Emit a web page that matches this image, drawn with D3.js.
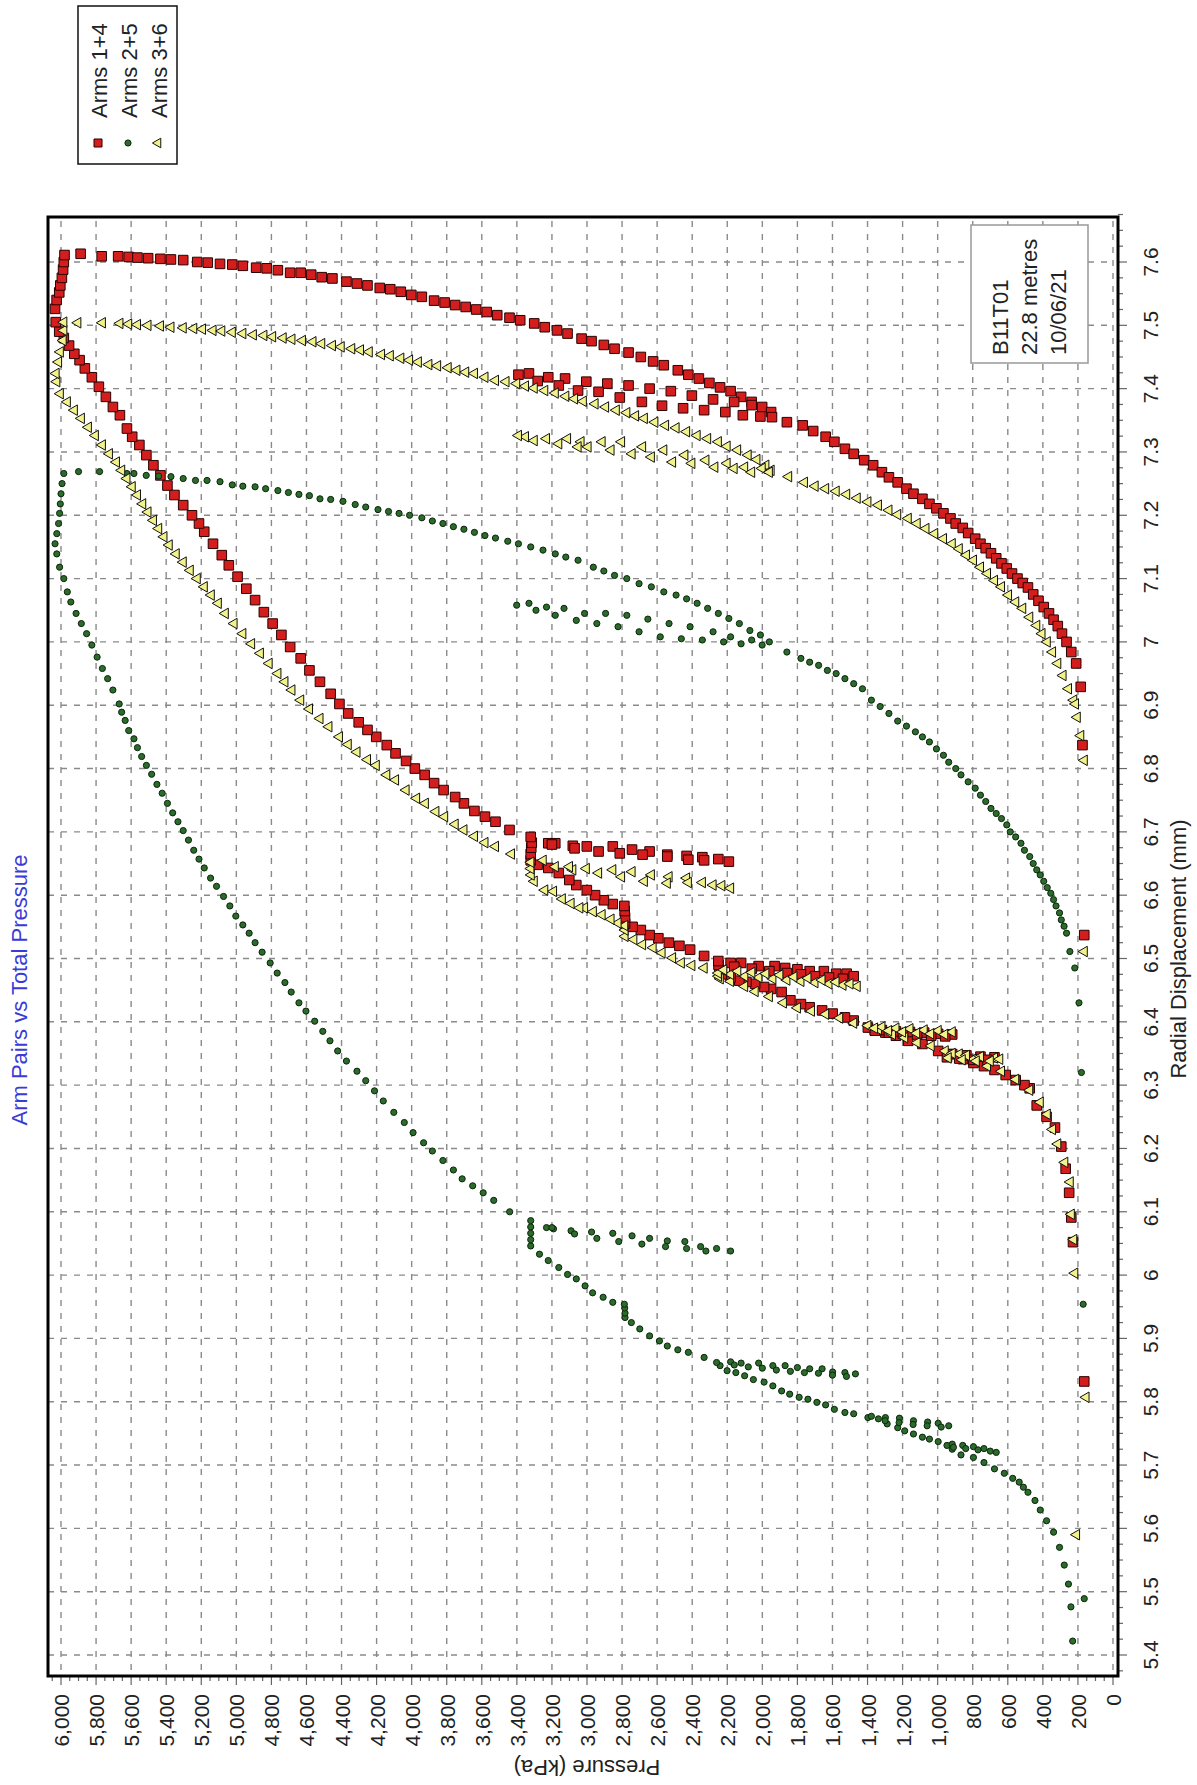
<!DOCTYPE html>
<html>
<head>
<meta charset="utf-8">
<script src="https://cdn.jsdelivr.net/npm/d3@7"></script>
<style>
  body { margin: 0; background: #fff; }
  svg { display: block; font-family: "Liberation Sans", Arial, sans-serif; }
</style>
</head>
<body>
<svg width="1197" height="1785"></svg>
<script>
// [pressure kPa, radial displacement mm] in test order
const arms14 = [
  [164, 5.832], [164, 6.537],
  [228, 6.052], [238, 6.091], [250, 6.13], [270, 6.168], [295, 6.203], [331, 6.233], [379, 6.25], [435, 6.268],
  [475, 6.295], [505, 6.30], [555, 6.308], [612, 6.316], [676, 6.324], [736, 6.33], [796, 6.335], [856, 6.341],
  [937, 6.349], [997, 6.354],
  [917, 6.349], [836, 6.347], [756, 6.345], [676, 6.344], [716, 6.34], [796, 6.34], [877, 6.342], [947, 6.344],
  [1087, 6.365], [1168, 6.37], [1238, 6.378], [1298, 6.383], [1358, 6.387], [1398, 6.391],
  [1318, 6.387], [1238, 6.385], [1158, 6.384], [1077, 6.383], [997, 6.381], [917, 6.38], [957, 6.377], [1037, 6.378],
  [1117, 6.38], [1198, 6.381], [1278, 6.383], [1358, 6.386],
  [1479, 6.402], [1529, 6.407], [1599, 6.413], [1659, 6.418], [1730, 6.423], [1780, 6.428], [1840, 6.434], [1890, 6.447],
  [1950, 6.452], [1990, 6.455], [2041, 6.46], [2091, 6.463], [2131, 6.465], [2181, 6.47], [2231, 6.475], [2245, 6.482],
  [2250, 6.49], [2251, 6.496],
  [2181, 6.493], [2121, 6.493], [2021, 6.488], [1930, 6.488], [1870, 6.485], [1800, 6.483], [1730, 6.48], [1649, 6.48],
  [1579, 6.476], [1519, 6.476], [1479, 6.472], [1540, 6.468], [1620, 6.47], [1700, 6.472], [1780, 6.475], [1860, 6.477],
  [1960, 6.48], [2060, 6.484], [2160, 6.487],
  [2332, 6.504], [2412, 6.514], [2473, 6.52], [2533, 6.525], [2593, 6.532], [2643, 6.537], [2693, 6.545], [2740, 6.55],
  [2783, 6.555], [2783, 6.565], [2785, 6.575], [2787, 6.583],
  [2853, 6.586], [2904, 6.592], [2954, 6.60], [3001, 6.608], [3061, 6.616], [3101, 6.624], [3161, 6.635], [3221, 6.643],
  [3282, 6.648], [3321, 6.655], [3321, 6.665], [3318, 6.675], [3315, 6.683],
  [3221, 6.682], [3181, 6.682], [3081, 6.678], [3001, 6.677], [2853, 6.677], [2743, 6.672], [2643, 6.669], [2542, 6.664],
  [2432, 6.662], [2342, 6.66], [2251, 6.657], [2191, 6.653], [2332, 6.655], [2422, 6.656], [2542, 6.661], [2683, 6.664],
  [2813, 6.666], [2934, 6.669], [3071, 6.674], [3200, 6.68],
  [3321, 6.692], [3442, 6.703], [3522, 6.716], [3582, 6.724], [3642, 6.733], [3702, 6.745], [3752, 6.755], [3818, 6.766],
  [3872, 6.777], [3926, 6.79], [3982, 6.80], [4032, 6.812], [4092, 6.824], [4142, 6.837], [4202, 6.85], [4252, 6.861],
  [4302, 6.873], [4362, 6.887], [4412, 6.902], [4462, 6.918], [4523, 6.937], [4583, 6.955], [4633, 6.974], [4693, 6.992],
  [4743, 7.011], [4793, 7.029], [4843, 7.047], [4893, 7.066], [4943, 7.084], [4993, 7.103], [5043, 7.121], [5083, 7.137],
  [5133, 7.155], [5183, 7.174], [5213, 7.187], [5253, 7.2], [5303, 7.216], [5353, 7.232], [5393, 7.247], [5433, 7.263],
  [5473, 7.279], [5513, 7.295], [5553, 7.311], [5594, 7.324], [5624, 7.337], [5664, 7.358], [5704, 7.371], [5744, 7.387],
  [5784, 7.403], [5824, 7.418], [5864, 7.432], [5894, 7.445], [5924, 7.455], [5954, 7.468],
  [5984, 7.48], [6010, 7.49], [6030, 7.505], [6034, 7.526], [6025, 7.54], [6010, 7.552], [6004, 7.563], [5995, 7.575],
  [5988, 7.588], [5984, 7.60], [5980, 7.611],
  [5888, 7.613], [5768, 7.609], [5674, 7.609], [5614, 7.608], [5564, 7.607], [5503, 7.606], [5433, 7.605], [5373, 7.604],
  [5303, 7.603], [5223, 7.6], [5163, 7.599], [5093, 7.597], [5023, 7.596], [4963, 7.594], [4887, 7.591], [4827, 7.59],
  [4763, 7.587], [4693, 7.583], [4633, 7.583], [4573, 7.58], [4513, 7.576], [4452, 7.574], [4372, 7.569], [4312, 7.566],
  [4252, 7.563], [4182, 7.559], [4122, 7.557], [4062, 7.553], [4002, 7.548], [3942, 7.545], [3872, 7.539], [3812, 7.536],
  [3752, 7.532], [3692, 7.529], [3632, 7.525], [3572, 7.521], [3512, 7.516], [3442, 7.512], [3381, 7.508], [3301, 7.503],
  [3241, 7.497], [3171, 7.492], [3111, 7.487], [3031, 7.479], [2974, 7.475], [2904, 7.469], [2843, 7.463], [2763, 7.457],
  [2693, 7.45], [2623, 7.443], [2562, 7.437], [2482, 7.429], [2422, 7.422], [2362, 7.416], [2302, 7.409], [2241, 7.402],
  [2181, 7.396], [2121, 7.387], [2061, 7.379], [2001, 7.371], [1950, 7.363], [1945, 7.355],
  [2061, 7.374], [2161, 7.379], [2281, 7.383], [2402, 7.389], [2522, 7.396], [2643, 7.40], [2763, 7.405], [2884, 7.408],
  [3004, 7.411], [3125, 7.416], [3221, 7.418], [3331, 7.424], [3391, 7.422],
  [3281, 7.412], [3161, 7.405], [3051, 7.397], [2934, 7.395], [2813, 7.386], [2687, 7.379], [2572, 7.373], [2452, 7.369],
  [2332, 7.366], [2211, 7.363], [2111, 7.358], [2011, 7.356],
  [1860, 7.347], [1770, 7.342], [1710, 7.333], [1639, 7.324], [1589, 7.316], [1529, 7.305], [1479, 7.297], [1419, 7.287],
  [1368, 7.279], [1318, 7.268], [1278, 7.26], [1228, 7.252], [1178, 7.242], [1138, 7.234], [1087, 7.226], [1047, 7.218],
  [1007, 7.211], [967, 7.203], [927, 7.195], [897, 7.187], [857, 7.18], [826, 7.172], [786, 7.163], [756, 7.155],
  [726, 7.148], [696, 7.14], [666, 7.132], [636, 7.124], [606, 7.116], [576, 7.108], [545, 7.1], [515, 7.093],
  [485, 7.086], [455, 7.075], [425, 7.065], [395, 7.055], [365, 7.045], [339, 7.035], [315, 7.025], [291, 7.013],
  [265, 7.0], [238, 6.984], [210, 6.966], [184, 6.929], [174, 6.837]
];

const arms25 = [
  [230, 5.422], [240, 5.476], [254, 5.512], [278, 5.542], [305, 5.57], [339, 5.594], [379, 5.612], [415, 5.629],
  [445, 5.644], [485, 5.657], [511, 5.665], [535, 5.673], [572, 5.679], [620, 5.687], [676, 5.694], [736, 5.704],
  [796, 5.712], [867, 5.716], [917, 5.725], [947, 5.731],
  [917, 5.733], [857, 5.731], [796, 5.729], [736, 5.726], [666, 5.72], [700, 5.722], [770, 5.724], [840, 5.726], [910, 5.728],
  [997, 5.737], [1047, 5.741], [1087, 5.744], [1138, 5.749], [1188, 5.754], [1228, 5.759], [1288, 5.765], [1338, 5.773],
  [1398, 5.775],
  [1378, 5.777], [1298, 5.775], [1218, 5.774], [1138, 5.77], [1057, 5.768], [997, 5.766], [937, 5.762], [980, 5.76],
  [1060, 5.762], [1140, 5.764], [1220, 5.767], [1300, 5.77],
  [1479, 5.781], [1529, 5.783], [1589, 5.788], [1639, 5.795], [1689, 5.799], [1740, 5.804], [1790, 5.807], [1844, 5.812],
  [1890, 5.817], [1940, 5.825], [1990, 5.831], [2051, 5.835], [2101, 5.841], [2151, 5.846], [2201, 5.849], [2241, 5.857],
  [2261, 5.862],
  [2181, 5.863], [2121, 5.861], [2021, 5.861], [1940, 5.857], [1870, 5.857], [1800, 5.854], [1730, 5.852], [1659, 5.852],
  [1599, 5.847], [1529, 5.846], [1469, 5.844], [1520, 5.84], [1600, 5.842], [1680, 5.845], [1760, 5.846], [1840, 5.848],
  [1920, 5.85], [2000, 5.853], [2080, 5.855], [2160, 5.858],
  [2332, 5.87], [2422, 5.878], [2482, 5.882], [2542, 5.888], [2587, 5.896], [2643, 5.904], [2699, 5.915], [2747, 5.925],
  [2783, 5.933], [2783, 5.94], [2785, 5.948], [2787, 5.954],
  [2853, 5.957], [2908, 5.965], [2968, 5.972], [3011, 5.983], [3061, 5.994], [3111, 6.001], [3161, 6.012], [3221, 6.023],
  [3271, 6.033], [3321, 6.046], [3321, 6.056], [3321, 6.066], [3321, 6.076], [3321, 6.086],
  [3231, 6.075], [3191, 6.073], [3091, 6.07], [2974, 6.068], [2853, 6.066], [2743, 6.062], [2643, 6.058], [2542, 6.054],
  [2442, 6.053], [2352, 6.045], [2261, 6.042], [2181, 6.038], [2322, 6.038], [2432, 6.042], [2552, 6.045], [2687, 6.049],
  [2819, 6.053], [2944, 6.058], [3071, 6.065], [3200, 6.075],
  [3441, 6.1], [3532, 6.118], [3592, 6.13], [3652, 6.141], [3712, 6.152], [3762, 6.166], [3822, 6.181], [3882, 6.196],
  [3932, 6.209], [3992, 6.225], [4042, 6.241], [4102, 6.257], [4162, 6.275], [4212, 6.291], [4262, 6.307], [4312, 6.322],
  [4372, 6.338], [4422, 6.354], [4466, 6.37], [4507, 6.385], [4553, 6.401], [4603, 6.417], [4643, 6.43], [4687, 6.447],
  [4723, 6.462], [4767, 6.477], [4807, 6.493], [4853, 6.51], [4893, 6.525], [4927, 6.54], [4963, 6.553], [5003, 6.567],
  [5037, 6.583], [5073, 6.598], [5113, 6.614], [5147, 6.627], [5183, 6.643], [5213, 6.657], [5243, 6.671], [5273, 6.687],
  [5303, 6.702], [5333, 6.716], [5363, 6.73], [5393, 6.745], [5423, 6.761], [5453, 6.775], [5483, 6.791], [5513, 6.805],
  [5540, 6.819], [5564, 6.833], [5584, 6.847], [5614, 6.86], [5634, 6.876], [5654, 6.889], [5668, 6.902], [5704, 6.924],
  [5734, 6.942], [5764, 6.958], [5794, 6.976], [5824, 6.995], [5854, 7.013], [5884, 7.029], [5914, 7.045], [5944, 7.063],
  [5964, 7.079], [5984, 7.1], [6008, 7.118], [6024, 7.139], [6034, 7.155], [6024, 7.171], [6014, 7.187], [6008, 7.203],
  [6004, 7.218], [6000, 7.234], [5994, 7.25], [5984, 7.266],
  [5900, 7.269], [5780, 7.269], [5624, 7.266], [5584, 7.266], [5514, 7.263], [5443, 7.262], [5373, 7.261], [5303, 7.258],
  [5233, 7.255], [5167, 7.255], [5093, 7.253], [5023, 7.248], [4963, 7.246], [4893, 7.245], [4833, 7.242], [4763, 7.239],
  [4703, 7.236], [4643, 7.233], [4583, 7.231], [4523, 7.226], [4462, 7.225], [4392, 7.222], [4322, 7.217], [4262, 7.213],
  [4192, 7.209], [4132, 7.206], [4072, 7.203], [4012, 7.2], [3942, 7.196], [3882, 7.191], [3822, 7.187], [3762, 7.182],
  [3702, 7.178], [3642, 7.173], [3582, 7.168], [3522, 7.164], [3452, 7.159], [3391, 7.155], [3321, 7.15], [3251, 7.145],
  [3181, 7.139], [3121, 7.134], [3051, 7.129], [2964, 7.118], [2904, 7.112], [2843, 7.105], [2773, 7.1], [2703, 7.092],
  [2633, 7.087], [2562, 7.079], [2492, 7.074], [2432, 7.068], [2372, 7.061], [2312, 7.053], [2251, 7.045], [2191, 7.037],
  [2131, 7.029], [2071, 7.018], [2011, 7.011], [1960, 7.0],
  [2061, 7.003], [2181, 7.008], [2281, 7.016], [2412, 7.024], [2532, 7.029], [2653, 7.036], [2773, 7.042], [2894, 7.045],
  [3014, 7.045], [3131, 7.053], [3231, 7.055], [3331, 7.061], [3401, 7.058], [3291, 7.05], [3181, 7.042], [3061, 7.034],
  [2944, 7.029], [2823, 7.024], [2703, 7.016], [2582, 7.008], [2462, 7.005], [2342, 7.003], [2221, 7.0], [2121, 6.997],
  [2001, 6.995],
  [1860, 6.984], [1780, 6.974], [1730, 6.968], [1679, 6.963], [1629, 6.955], [1579, 6.95], [1529, 6.942], [1479, 6.934],
  [1429, 6.926], [1378, 6.908], [1328, 6.898], [1278, 6.887], [1228, 6.875], [1178, 6.867], [1127, 6.858], [1087, 6.85],
  [1047, 6.842], [1007, 6.831], [967, 6.821], [937, 6.81], [897, 6.8], [867, 6.79], [826, 6.779], [786, 6.769],
  [756, 6.758], [726, 6.748], [696, 6.737], [666, 6.729], [636, 6.721], [606, 6.711], [586, 6.7], [555, 6.692],
  [525, 6.682], [505, 6.671], [475, 6.661], [455, 6.65], [435, 6.64], [415, 6.632], [395, 6.622], [375, 6.612],
  [355, 6.603], [339, 6.593], [325, 6.583], [305, 6.572], [295, 6.561], [279, 6.551], [265, 6.54], [246, 6.511],
  [218, 6.485], [194, 6.43], [180, 6.32], [170, 5.954], [164, 5.489]
];

const arms36 = [
  [208, 5.59], [154, 5.807], [164, 6.511],
  [218, 6.003], [224, 6.056], [238, 6.096], [244, 6.147], [275, 6.178], [315, 6.207], [345, 6.23], [375, 6.254],
  [415, 6.273], [475, 6.292], [555, 6.309], [636, 6.322], [716, 6.33], [796, 6.341], [877, 6.349], [957, 6.354],
  [917, 6.35], [836, 6.347], [756, 6.345], [676, 6.343], [646, 6.341], [700, 6.338], [780, 6.338], [860, 6.34], [940, 6.343],
  [1037, 6.362], [1117, 6.367], [1188, 6.375], [1258, 6.38], [1338, 6.388], [1398, 6.394],
  [1318, 6.392], [1238, 6.39], [1158, 6.389], [1077, 6.387], [997, 6.386], [917, 6.384], [960, 6.38], [1040, 6.381],
  [1120, 6.382], [1200, 6.384], [1280, 6.386], [1360, 6.39],
  [1479, 6.398], [1559, 6.406], [1639, 6.412], [1720, 6.417], [1800, 6.422], [1880, 6.43], [1960, 6.44], [2041, 6.448],
  [2101, 6.456], [2181, 6.464], [2240, 6.468], [2250, 6.472], [2251, 6.477],
  [2181, 6.475], [2100, 6.472], [2020, 6.47], [1940, 6.468], [1860, 6.466], [1780, 6.464], [1700, 6.462], [1620, 6.46],
  [1540, 6.458], [1459, 6.456], [1500, 6.46], [1580, 6.463], [1660, 6.466], [1740, 6.469], [1820, 6.471], [1900, 6.474],
  [1980, 6.476], [2060, 6.478], [2140, 6.48], [2220, 6.482],
  [2332, 6.485], [2402, 6.489], [2462, 6.493], [2512, 6.501], [2572, 6.509], [2623, 6.517], [2683, 6.522], [2733, 6.53],
  [2783, 6.535], [2783, 6.545], [2785, 6.552],
  [2823, 6.556], [2863, 6.562], [2914, 6.569], [2964, 6.574], [3014, 6.58], [3041, 6.58], [3091, 6.587], [3141, 6.594],
  [3191, 6.606], [3241, 6.608], [3301, 6.622], [3318, 6.632], [3320, 6.642], [3320, 6.652],
  [3181, 6.645], [3081, 6.64], [3004, 6.642], [2853, 6.64], [2743, 6.637], [2633, 6.632], [2532, 6.629], [2432, 6.627],
  [2342, 6.62], [2231, 6.615], [2181, 6.611], [2281, 6.616], [2422, 6.62], [2542, 6.619], [2673, 6.622], [2803, 6.629],
  [2934, 6.635], [3100, 6.645], [3250, 6.655],
  [3431, 6.665], [3522, 6.677], [3582, 6.683], [3642, 6.693], [3702, 6.703], [3752, 6.712], [3812, 6.724], [3862, 6.732],
  [3922, 6.745], [3972, 6.753], [4032, 6.766], [4092, 6.782], [4142, 6.79], [4202, 6.805], [4252, 6.814], [4312, 6.826],
  [4362, 6.838], [4412, 6.85], [4472, 6.866], [4523, 6.879], [4583, 6.894], [4633, 6.908], [4683, 6.924], [4723, 6.937],
  [4763, 6.95], [4813, 6.966], [4863, 6.982], [4913, 6.997], [4963, 7.013], [5013, 7.029], [5063, 7.045], [5103, 7.061],
  [5143, 7.074], [5183, 7.087], [5223, 7.1], [5263, 7.113], [5303, 7.126], [5343, 7.139], [5383, 7.153], [5413, 7.166],
  [5443, 7.179], [5473, 7.192], [5504, 7.205], [5534, 7.218], [5564, 7.232], [5594, 7.245], [5624, 7.258], [5654, 7.271],
  [5684, 7.284], [5724, 7.297], [5764, 7.311], [5804, 7.326], [5844, 7.339], [5884, 7.353], [5924, 7.366], [5964, 7.379],
  [6004, 7.392], [6024, 7.411], [6028, 7.424], [6014, 7.442], [6004, 7.458], [5988, 7.476], [5984, 7.492], [5984, 7.505],
  [5904, 7.504], [5764, 7.504], [5664, 7.503], [5614, 7.502], [5564, 7.501], [5504, 7.5], [5433, 7.499], [5373, 7.497],
  [5303, 7.496], [5243, 7.495], [5193, 7.494], [5133, 7.492], [5083, 7.491], [5023, 7.489], [4963, 7.487], [4903, 7.485],
  [4843, 7.484], [4793, 7.482], [4733, 7.48], [4683, 7.478], [4623, 7.476], [4563, 7.474], [4513, 7.471], [4452, 7.468],
  [4402, 7.466], [4342, 7.463], [4292, 7.461], [4242, 7.458], [4172, 7.454], [4122, 7.452], [4062, 7.448], [4012, 7.445],
  [3962, 7.442], [3902, 7.438], [3852, 7.436], [3792, 7.433], [3742, 7.429], [3692, 7.426], [3642, 7.424], [3582, 7.418],
  [3522, 7.413], [3462, 7.411], [3401, 7.408], [3351, 7.404], [3301, 7.401], [3241, 7.397], [3181, 7.393], [3121, 7.388],
  [3071, 7.384], [3021, 7.38], [2954, 7.376], [2894, 7.371], [2833, 7.366], [2773, 7.362], [2723, 7.357], [2673, 7.353],
  [2613, 7.347], [2552, 7.342], [2492, 7.338], [2432, 7.332], [2372, 7.326], [2312, 7.321], [2251, 7.316], [2201, 7.309],
  [2141, 7.303], [2081, 7.295], [2031, 7.288], [1980, 7.279], [1950, 7.271],
  [2001, 7.274], [2101, 7.276], [2201, 7.282], [2322, 7.287], [2442, 7.295], [2562, 7.303], [2683, 7.308], [2803, 7.316],
  [2914, 7.316], [3034, 7.316], [3111, 7.321], [3231, 7.321], [3351, 7.324], [3391, 7.326], [3301, 7.318], [3161, 7.313],
  [3051, 7.308], [2994, 7.308], [2863, 7.303], [2743, 7.297], [2633, 7.292], [2512, 7.284], [2402, 7.282], [2271, 7.276],
  [2161, 7.274], [2061, 7.268], [1960, 7.268],
  [1850, 7.261], [1760, 7.252], [1699, 7.246], [1639, 7.242], [1579, 7.238], [1519, 7.233], [1459, 7.227], [1398, 7.221],
  [1338, 7.216], [1278, 7.208], [1228, 7.201], [1168, 7.195], [1117, 7.187], [1067, 7.179], [1017, 7.171], [967, 7.163],
  [917, 7.155], [877, 7.147], [836, 7.137], [796, 7.129], [756, 7.118], [716, 7.108], [676, 7.097], [636, 7.087],
  [596, 7.074], [555, 7.063], [515, 7.053], [475, 7.039], [435, 7.026], [405, 7.013], [375, 7.0], [345, 6.984],
  [315, 6.966], [285, 6.947], [254, 6.926], [224, 6.908], [214, 6.902], [204, 6.881], [184, 6.852], [164, 6.813]
];

const seriesNames = ["Arms 1+4", "Arms 2+5", "Arms 3+6"];
const pressureTicks = d3.range(0, 6001, 200);
const displacementTicks = d3.range(54, 77).map(d => d / 10);
const infoLines = ["B11T01", "22.8 metres", "10/06/21"];

const svg = d3.select("svg");

const frame = { left: 48, right: 1118, top: 217, bottom: 1676 };
const x = d3.scaleLinear().domain([6000, 0]).range([61, 1113]);
const y = d3.scaleLinear().domain([7.6, 5.4]).range([262, 1655]);

// grid
const grid = svg.append("g").attr("stroke", "#8a8a8a").attr("stroke-width", 1.4).attr("stroke-dasharray", "6,7");
grid.selectAll("line.v").data(pressureTicks).enter().append("line")
  .attr("x1", d => x(d)).attr("x2", d => x(d))
  .attr("y1", frame.top + 4).attr("y2", frame.bottom);
grid.selectAll("line.h").data(displacementTicks).enter().append("line")
  .attr("y1", d => y(d)).attr("y2", d => y(d))
  .attr("x1", frame.left).attr("x2", frame.right - 4);

// tick marks outside the frame
const ticks = svg.append("g").attr("stroke", "#666").attr("stroke-width", 1.2);
ticks.selectAll("line.pb").data(d3.range(0, 6051, 50)).enter().append("line")
  .attr("x1", d => x(d)).attr("x2", d => x(d))
  .attr("y1", frame.bottom).attr("y2", d => frame.bottom + (d % 200 === 0 ? 9 : 5));
ticks.selectAll("line.dr").data(d3.range(5375, 7676, 25)).enter().append("line")
  .attr("y1", d => y(d / 1000)).attr("y2", d => y(d / 1000))
  .attr("x1", frame.right).attr("x2", d => frame.right + (d % 100 === 0 ? 9 : 5));

// frame
svg.append("rect")
  .attr("x", frame.left).attr("y", frame.top)
  .attr("width", frame.right - frame.left).attr("height", frame.bottom - frame.top)
  .attr("fill", "none").attr("stroke", "#000").attr("stroke-width", 3);

// info box
const info = svg.append("g");
info.append("rect").attr("x", 971).attr("y", 225).attr("width", 117).attr("height", 138)
  .attr("fill", "#fff").attr("stroke", "#999").attr("stroke-width", 1.5);
info.selectAll("text").data(infoLines).enter().append("text")
  .attr("transform", (d, i) => `translate(${1008 + i * 29},355) rotate(-90)`)
  .attr("font-size", 22).attr("fill", "#222").text(d => d);

// markers
const squarePath = d3.symbol(d3.symbolSquare, 92)();
const circlePath = d3.symbol(d3.symbolCircle, 30)();
const trianglePath = d3.symbol(d3.symbolTriangle, 48)();

function drawSeries(data, path, fill, stroke, rot) {
  svg.append("g").selectAll("path").data(data).enter().append("path")
    .attr("d", path)
    .attr("transform", d => `translate(${x(d[0])},${y(d[1])}) rotate(${rot})`)
    .attr("fill", fill).attr("stroke", stroke).attr("stroke-width", 1);
}
drawSeries(arms14, squarePath, "#d41e1e", "#2a0000", 0);
drawSeries(arms25, circlePath, "#2b6b2b", "#0c260c", 0);
drawSeries(arms36, trianglePath, "#f2f28a", "#111", -90);

// axis labels
svg.append("g").selectAll("text").data(pressureTicks).enter().append("text")
  .attr("transform", d => `translate(${x(d) + 8},1694) rotate(-90)`)
  .attr("text-anchor", "end").attr("font-size", 21).attr("fill", "#222")
  .text(d => d3.format(",")(d));
svg.append("g").selectAll("text").data(displacementTicks).enter().append("text")
  .attr("transform", d => `translate(1158,${y(d)}) rotate(-90)`)
  .attr("text-anchor", "middle").attr("font-size", 21).attr("fill", "#222")
  .text(d => d3.format("~g")(d));

svg.append("text")
  .attr("transform", "translate(1186,949) rotate(-90)")
  .attr("text-anchor", "middle").attr("font-size", 22).attr("fill", "#222")
  .text("Radial Displacement (mm)");
svg.append("text")
  .attr("transform", "translate(587,1760) rotate(180)")
  .attr("text-anchor", "middle").attr("font-size", 22).attr("fill", "#222")
  .text("Pressure (kPa)");
svg.append("text")
  .attr("transform", "translate(27,990) rotate(-90)")
  .attr("text-anchor", "middle").attr("font-size", 22).attr("fill", "#3a3ad8")
  .text("Arm Pairs vs Total Pressure");

// legend
const legend = svg.append("g");
legend.append("rect").attr("x", 78).attr("y", 6).attr("width", 99).attr("height", 158)
  .attr("fill", "#fff").attr("stroke", "#111").attr("stroke-width", 1.5);
const legendShapes = [
  { path: d3.symbol(d3.symbolSquare, 64)(), fill: "#d41e1e", stroke: "#2a0000", rot: 0 },
  { path: d3.symbol(d3.symbolCircle, 30)(), fill: "#2b6b2b", stroke: "#0c260c", rot: 0 },
  { path: d3.symbol(d3.symbolTriangle, 40)(), fill: "#f2f28a", stroke: "#111", rot: -90 }
];
seriesNames.forEach(function (name, i) {
  const cx = 98 + i * 30;
  legend.append("path").attr("d", legendShapes[i].path)
    .attr("transform", `translate(${cx},143) rotate(${legendShapes[i].rot})`)
    .attr("fill", legendShapes[i].fill).attr("stroke", legendShapes[i].stroke);
  legend.append("text")
    .attr("transform", `translate(${cx + 9},118) rotate(-90)`)
    .attr("font-size", 22).attr("fill", "#222").text(name);
});
</script>
</body>
</html>
